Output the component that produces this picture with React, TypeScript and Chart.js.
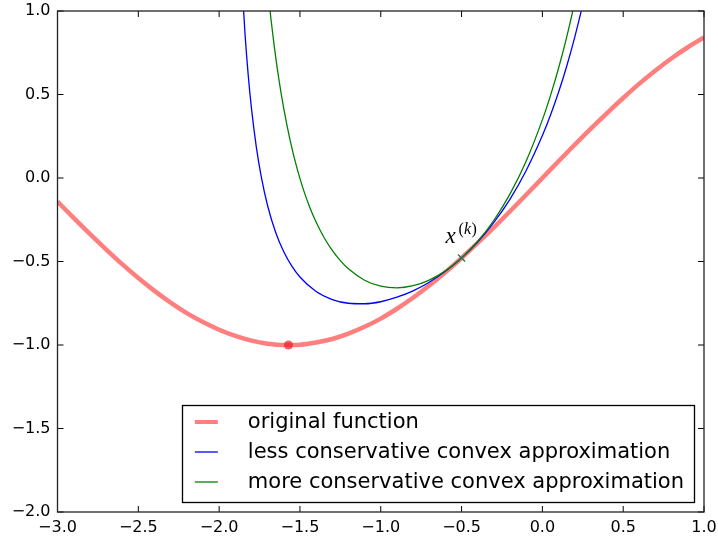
import { useEffect, useRef } from "react";
import { Chart, registerables } from "chart.js";

Chart.register(...registerables);

// original function (red)
const xRed = [-3.0, -2.9, -2.8, -2.7, -2.6, -2.5, -2.4, -2.3, -2.2, -2.1, -2.0, -1.9, -1.8, -1.7, -1.6, -1.5, -1.4, -1.3, -1.2, -1.1, -1.0, -0.9, -0.8, -0.7, -0.6, -0.5, -0.4, -0.3, -0.2, -0.1, 0.0, 0.1, 0.2, 0.3, 0.4, 0.5, 0.6, 0.7, 0.8, 0.9, 1.0];
const yRed = [-0.141, -0.239, -0.335, -0.427, -0.516, -0.599, -0.676, -0.746, -0.809, -0.863, -0.909, -0.946, -0.974, -0.992, -1.0, -0.998, -0.985, -0.964, -0.932, -0.891, -0.842, -0.783, -0.717, -0.644, -0.565, -0.479, -0.389, -0.296, -0.199, -0.1, 0.0, 0.1, 0.199, 0.296, 0.389, 0.479, 0.565, 0.644, 0.717, 0.783, 0.842];

// less conservative convex approximation (blue)
const xBlue = [-1.86, -1.84, -1.82, -1.80, -1.77, -1.74, -1.70, -1.65, -1.60, -1.55, -1.50, -1.40, -1.30, -1.20, -1.10, -1.00, -0.90, -0.80, -0.70, -0.60, -0.50, -0.40, -0.30, -0.20, -0.10, 0.00, 0.05, 0.10, 0.15, 0.20, 0.25, 0.30];
const yBlue = [1.188, 0.866, 0.616, 0.418, 0.186, 0.011, -0.166, -0.326, -0.442, -0.528, -0.593, -0.680, -0.728, -0.750, -0.753, -0.741, -0.714, -0.676, -0.624, -0.559, -0.479, -0.383, -0.266, -0.126, 0.045, 0.254, 0.376, 0.513, 0.668, 0.842, 1.041, 1.270];

// more conservative convex approximation (green)
const xGreen = [-1.70, -1.68, -1.66, -1.63, -1.60, -1.56, -1.52, -1.48, -1.44, -1.40, -1.35, -1.30, -1.25, -1.20, -1.10, -1.00, -0.90, -0.80, -0.70, -0.60, -0.50, -0.40, -0.30, -0.20, -0.10, 0.00, 0.05, 0.10, 0.15, 0.20, 0.25];
const yGreen = [1.142, 0.958, 0.797, 0.589, 0.415, 0.222, 0.065, -0.065, -0.173, -0.264, -0.358, -0.434, -0.495, -0.544, -0.612, -0.648, -0.658, -0.645, -0.611, -0.556, -0.479, -0.379, -0.253, -0.095, 0.102, 0.348, 0.493, 0.657, 0.842, 1.053, 1.293];

// markers: minimum of original function, and x^(k)
const minX = [-1.571];
const minY = [-1.0];
const kX = [-0.5];
const kY = [-0.479];

const labels = [
  "original function",
  "less conservative convex approximation",
  "more conservative convex approximation",
];

const xMin = -3, xMax = 1, yMin = -2, yMax = 1, tickStep = 0.5;

const fmt = (v: number) => {
  const s = Math.abs(v).toFixed(1);
  return v < -1e-9 ? "\u2212" + s : s;
};

const pts = (xs: number[], ys: number[]) => xs.map((x, i) => ({ x, y: ys[i] }));

const overlayPlugin = {
  id: "overlay",
  afterDatasetsDraw(chart: any) {
    const { ctx, chartArea: a, scales } = chart;
    ctx.save();
    // inward ticks on all four sides
    ctx.strokeStyle = "#000";
    ctx.lineWidth = 1;
    ctx.beginPath();
    for (const t of scales.x.ticks) {
      const p = scales.x.getPixelForValue(t.value);
      ctx.moveTo(p, a.bottom);
      ctx.lineTo(p, a.bottom - 6);
      ctx.moveTo(p, a.top);
      ctx.lineTo(p, a.top + 6);
    }
    for (const t of scales.y.ticks) {
      const p = scales.y.getPixelForValue(t.value);
      ctx.moveTo(a.left, p);
      ctx.lineTo(a.left + 6, p);
      ctx.moveTo(a.right, p);
      ctx.lineTo(a.right - 6, p);
    }
    ctx.stroke();
    ctx.lineWidth = 1.3;
    ctx.strokeStyle = "#222";
    ctx.strokeRect(a.left, a.top, a.right - a.left, a.bottom - a.top);

    // annotation x^(k)
    const px = scales.x.getPixelForValue(kX[0]);
    const py = scales.y.getPixelForValue(kY[0]);
    ctx.fillStyle = "#000";
    ctx.textBaseline = "alphabetic";
    ctx.textAlign = "left";
    ctx.font = "italic 23px 'Liberation Serif'";
    ctx.fillText("x", px - 16, py - 15);
    let sx = px - 3;
    const sy = py - 24;
    ctx.font = "16px 'Liberation Serif'";
    ctx.fillText("(", sx, sy);
    sx += ctx.measureText("(").width;
    ctx.font = "italic 16px 'Liberation Serif'";
    ctx.fillText("k", sx, sy);
    sx += ctx.measureText("k").width + 0.5;
    ctx.font = "16px 'Liberation Serif'";
    ctx.fillText(")", sx, sy);

    // legend
    const items = chart.data.datasets.filter((d: any) => d.inLegend);
    ctx.font = "21px 'DejaVu Sans'";
    let tw = 0;
    for (const d of items) tw = Math.max(tw, ctx.measureText(d.label).width);
    const boxW = 13 + 23 + 30 + tw + 10;
    const boxH = 97;
    const right = a.right - 10;
    const bottom = a.bottom - 10;
    const left = right - boxW;
    const top = bottom - boxH;
    ctx.fillStyle = "#fff";
    ctx.fillRect(left, top, boxW, boxH);
    ctx.strokeStyle = "#000";
    ctx.lineWidth = 1.3;
    ctx.strokeRect(Math.round(left) + 0.5, Math.round(top) + 0.5, Math.round(boxW), Math.round(boxH));
    items.forEach((d: any, i: number) => {
      const cy = top + 17 + 30 * i;
      ctx.strokeStyle = d.borderColor;
      ctx.lineWidth = Math.min(d.borderWidth, 4);
      ctx.beginPath();
      ctx.moveTo(left + 13, cy);
      ctx.lineTo(left + 36, cy);
      ctx.stroke();
      ctx.fillStyle = "#000";
      ctx.textBaseline = "alphabetic";
      ctx.fillText(d.label, left + 66, cy + 6);
    });
    ctx.restore();
  },
};

export default function App() {
  const ref = useRef<HTMLCanvasElement | null>(null);
  useEffect(() => {
    if (!ref.current) return;
    const tickFont = { family: "'DejaVu Sans'", size: 16 };
    const chart = new Chart(ref.current, {
      type: "scatter",
      data: {
        datasets: [
          {
            label: labels[0],
            data: pts(xRed, yRed),
            showLine: true,
            borderColor: "rgba(255,0,0,0.5)",
            borderWidth: 4.5,
            pointRadius: 0,
            cubicInterpolationMode: "monotone",
            order: 4,
            inLegend: true,
          } as any,
          {
            label: labels[1],
            data: pts(xBlue, yBlue),
            showLine: true,
            borderColor: "#0000ff",
            borderWidth: 1.3,
            pointRadius: 0,
            cubicInterpolationMode: "monotone",
            order: 3,
            inLegend: true,
          },
          {
            label: labels[2],
            data: pts(xGreen, yGreen),
            showLine: true,
            borderColor: "#008000",
            borderWidth: 1.3,
            pointRadius: 0,
            cubicInterpolationMode: "monotone",
            order: 2,
            inLegend: true,
          },
          {
            label: "minimum",
            data: pts(minX, minY),
            showLine: false,
            pointRadius: 4.5,
            backgroundColor: "rgba(235,30,30,0.7)",
            borderColor: "rgba(235,30,30,0.7)",
            borderWidth: 0,
            order: 1,
          },
          {
            label: "x(k)",
            data: pts(kX, kY),
            showLine: false,
            pointStyle: "crossRot",
            pointRadius: 5,
            borderColor: "#2a7050",
            borderWidth: 1.3,
            order: 0,
          },
        ],
      },
      options: {
        responsive: false,
        animation: false,
        devicePixelRatio: 1,
        layout: { padding: { top: 11, right: 14, left: 0, bottom: 0 } },
        plugins: { legend: { display: false }, tooltip: { enabled: false } },
        scales: {
          x: {
            type: "linear",
            min: xMin,
            max: xMax,
            grid: { display: false, drawTicks: false },
            border: { display: false },
            ticks: {
              stepSize: tickStep,
              callback: (v: any) => fmt(Number(v)),
              font: tickFont,
              color: "#000",
              padding: 6,
              maxRotation: 0,
              autoSkip: false,
            },
            afterFit: (s: any) => {
              s.height = 30;
              s.paddingLeft = 0;
              s.paddingRight = 0;
            },
          },
          y: {
            type: "linear",
            min: yMin,
            max: yMax,
            grid: { display: false, drawTicks: false },
            border: { display: false },
            ticks: {
              stepSize: tickStep,
              callback: (v: any) => fmt(Number(v)),
              font: tickFont,
              color: "#000",
              padding: 7,
              autoSkip: false,
            },
            afterFit: (s: any) => {
              s.width = 57.5;
              s.paddingTop = 0;
              s.paddingBottom = 0;
            },
          },
        },
      },
      plugins: [overlayPlugin],
    });
    return () => chart.destroy();
  }, []);

  return (
    <div style={{ position: "fixed", left: 0, top: 0, width: 718, height: 542, background: "#fff" }}>
      <canvas ref={ref} width={718} height={542} />
    </div>
  );
}
